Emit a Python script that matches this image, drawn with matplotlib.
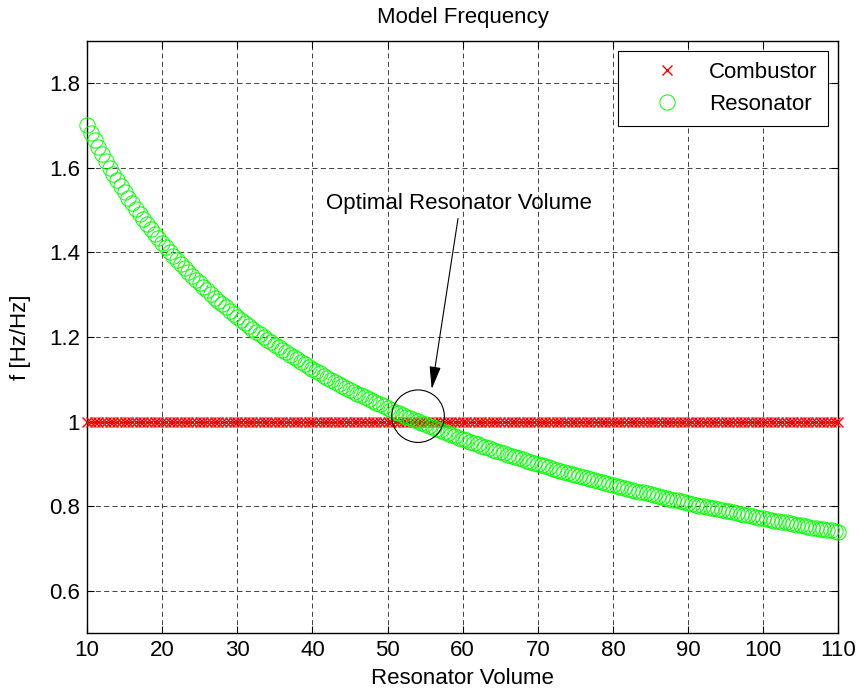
import matplotlib
matplotlib.use("Agg")
import matplotlib.pyplot as plt
from matplotlib.patches import Ellipse

plt.rcParams["font.family"] = ["Liberation Sans", "DejaVu Sans"]

# resonator volume sweep, half-unit steps from 10 to 110
volume = [10 + 0.5 * i for i in range(201)]

# resonator frequency [Hz/Hz]
resonator = [
    1.700, 1.682, 1.665, 1.648, 1.632, 1.616, 1.600, 1.585, 1.571, 1.557,
    1.543, 1.529, 1.516, 1.503, 1.491, 1.479, 1.467, 1.455, 1.444, 1.433,
    1.423, 1.412, 1.402, 1.392, 1.382, 1.372, 1.363, 1.353, 1.344, 1.335,
    1.327, 1.318, 1.310, 1.301, 1.293, 1.285, 1.278, 1.270, 1.262, 1.255,
    1.248, 1.241, 1.234, 1.227, 1.220, 1.213, 1.207, 1.200, 1.194, 1.188,
    1.182, 1.176, 1.170, 1.164, 1.158, 1.152, 1.147, 1.141, 1.136, 1.130,
    1.125, 1.119, 1.114, 1.109, 1.104, 1.099, 1.094, 1.089, 1.085, 1.080,
    1.076, 1.071, 1.066, 1.062, 1.058, 1.053, 1.049, 1.045, 1.041, 1.036,
    1.032, 1.028, 1.024, 1.020, 1.016, 1.012, 1.009, 1.005, 1.001, 0.997,
    0.994, 0.990, 0.987, 0.983, 0.980, 0.976, 0.973, 0.969, 0.966, 0.962,
    0.959, 0.956, 0.953, 0.950, 0.947, 0.943, 0.940, 0.937, 0.934, 0.931,
    0.928, 0.925, 0.922, 0.919, 0.917, 0.914, 0.911, 0.908, 0.905, 0.902,
    0.900, 0.897, 0.895, 0.892, 0.889, 0.886, 0.884, 0.881, 0.879, 0.876,
    0.874, 0.871, 0.869, 0.866, 0.864, 0.862, 0.860, 0.857, 0.855, 0.852,
    0.850, 0.848, 0.846, 0.843, 0.841, 0.839, 0.837, 0.835, 0.833, 0.831,
    0.829, 0.826, 0.824, 0.822, 0.820, 0.818, 0.816, 0.814, 0.812, 0.810,
    0.808, 0.806, 0.804, 0.802, 0.801, 0.799, 0.797, 0.795, 0.793, 0.791,
    0.790, 0.788, 0.786, 0.784, 0.782, 0.780, 0.779, 0.777, 0.775, 0.773,
    0.772, 0.770, 0.768, 0.766, 0.765, 0.763, 0.762, 0.760, 0.758, 0.756,
    0.755, 0.753, 0.752, 0.750, 0.749, 0.747, 0.746, 0.744, 0.743, 0.741,
    0.740,
]

# combustor frequency is the normalising reference
combustor = [1.0] * len(volume)

xticks = [10, 20, 30, 40, 50, 60, 70, 80, 90, 100, 110]
yticks = [0.6, 0.8, 1.0, 1.2, 1.4, 1.6, 1.8]
ytick_labels = ["0.6", "0.8", "1", "1.2", "1.4", "1.6", "1.8"]

FS = 16

fig = plt.figure(figsize=(8.58, 6.93), dpi=100)
ax = fig.add_axes([0.1014, 0.0861, 0.8757, 0.8551])

ax.plot(volume, combustor, linestyle="none", marker="x", color="#ff0000",
        markersize=6.5, markeredgewidth=1.0, label="Combustor", zorder=3,
        clip_on=False)
ax.plot(volume, resonator, linestyle="none", marker="o", markerfacecolor="none",
        markeredgecolor="#00ff00", markersize=11, markeredgewidth=0.7,
        label="Resonator", zorder=4, clip_on=False)

ax.set_xlim(10, 110)
ax.set_ylim(0.5, 1.9)
ax.set_xticks(xticks)
ax.set_yticks(yticks)
ax.set_yticklabels(ytick_labels)
ax.tick_params(direction="in", top=True, right=True, length=5, width=0.8,
               labelsize=FS, pad=5)
ax.grid(True, color="#222222", linestyle=(0, (6, 4)), linewidth=0.6)
ax.set_axisbelow(True)
for sp in ax.spines.values():
    sp.set_linewidth(1.0)

ax.set_title("Model Frequency", fontsize=FS, pad=13)
ax.set_xlabel("Resonator Volume", fontsize=FS, labelpad=5)
ax.set_ylabel("f [Hz/Hz]", fontsize=FS, labelpad=13)

# highlight the crossing point
ax.add_patch(Ellipse((54.06, 1.013), 7.0, 0.124, fill=False,
                     edgecolor="black", linewidth=0.8, zorder=5))
ax.text(59.45, 1.515, "Optimal Resonator Volume", fontsize=FS,
        ha="center", va="center")
ax.annotate("", xy=(55.88, 1.077), xytext=(59.38, 1.48),
            arrowprops=dict(arrowstyle="-|>,head_length=1.0,head_width=0.25",
                            color="black", lw=0.8, shrinkA=0, shrinkB=0,
                            mutation_scale=14))

leg = ax.legend(loc="upper right", fontsize=FS, frameon=True, fancybox=False,
                edgecolor="black", borderaxespad=0.45, handlelength=3.4,
                handletextpad=0.2, borderpad=0.5, labelspacing=0.5,
                framealpha=1)
leg.get_frame().set_linewidth(0.8)

fig.savefig("out.png", dpi=100)
